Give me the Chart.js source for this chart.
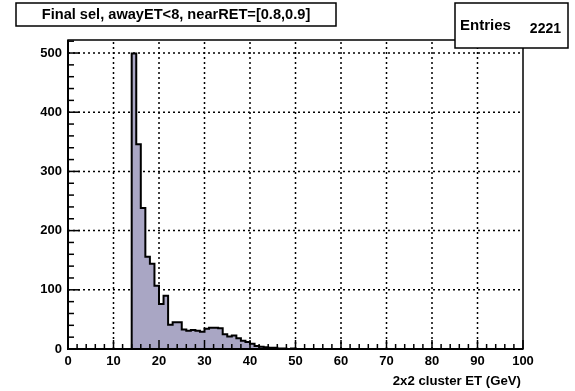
<!DOCTYPE html>
<html><head><meta charset="utf-8">
<script src="https://cdn.jsdelivr.net/npm/chart.js@4.4.1/dist/chart.umd.min.js"></script>
<style>html,body{margin:0;padding:0;background:#fff;overflow:hidden;} #wrap{width:575px;height:391px;position:relative;}</style>
</head><body><div id="wrap"><canvas id="c" width="575" height="391"></canvas></div>
<script>
// ---- data ----
const titleText = "Final sel, awayET<8, nearRET=[0.8,0.9]";
const xAxisTitle = "2x2 cluster ET (GeV)";
const statsLabel = "Entries";
const statsValue = "2221";
const binEdges = [14,15,16,17,18,19,20,21,22,23,24,25,26,27,28,29,30,31,32,33,34,35,36,37,38,39,40,41,42,43,44,45,46,47,48,49,50];
const counts   = [499,346,238,156,144,107,76,90,41,45,45,33,31,32,31,29,34,36,36,35,25,21,23,18,14,12,9,5,4,3,2,2,1,1,0,1];
const xTickValues = [0,10,20,30,40,50,60,70,80,90,100];
const yTickValues = [0,100,200,300,400,500];
const xRange = [0,100];
const yRange = [0,522];

// histogram outline points built from the arrays above
const pts = [{x: binEdges[0], y: 0}];
counts.forEach((c, i) => pts.push({x: binEdges[i], y: c}));
pts.push({x: binEdges[binEdges.length - 1], y: counts[counts.length - 1]});
pts.push({x: binEdges[binEdges.length - 1], y: 0});

const FONT = "'Liberation Sans', Arial, Helvetica, sans-serif";

const rootPlugin = {
  id: 'rootStyle',
  beforeDatasetsDraw(chart) {
    const {ctx, chartArea: a, scales: {x, y}} = chart;
    ctx.save();
    ctx.strokeStyle = '#000';
    ctx.lineWidth = 1.5;
    ctx.setLineDash([2, 3]);
    xTickValues.forEach(v => {
      if (v === xRange[0] || v === xRange[1]) return;
      const px = x.getPixelForValue(v);
      ctx.beginPath(); ctx.moveTo(px, a.bottom); ctx.lineTo(px, a.top); ctx.stroke();
    });
    yTickValues.forEach(v => {
      if (v === yRange[0]) return;
      const py = y.getPixelForValue(v);
      ctx.beginPath(); ctx.moveTo(a.left, py); ctx.lineTo(a.right, py); ctx.stroke();
    });
    ctx.restore();
  },
  afterDatasetsDraw(chart) {
    const {ctx, chartArea: a, scales: {x, y}} = chart;
    ctx.save();
    ctx.strokeStyle = '#000';
    ctx.setLineDash([]);
    // ticks
    ctx.lineWidth = 1.5;
    for (let v = xRange[0]; v <= xRange[1]; v += 2) {
      const px = x.getPixelForValue(v);
      const len = (v % 10 === 0) ? 9 : 5;
      ctx.beginPath(); ctx.moveTo(px, a.bottom); ctx.lineTo(px, a.bottom - len); ctx.stroke();
    }
    for (let v = yRange[0]; v <= yRange[1]; v += 20) {
      const py = y.getPixelForValue(v);
      const len = (v % 100 === 0) ? 12 : 6;
      ctx.beginPath(); ctx.moveTo(a.left, py); ctx.lineTo(a.left + len, py); ctx.stroke();
    }
    // frame
    ctx.lineWidth = 1.5;
    ctx.strokeRect(a.left, a.top, a.right - a.left, a.bottom - a.top);
    ctx.lineWidth = 2;
    ctx.beginPath(); ctx.moveTo(a.left, a.top); ctx.lineTo(a.left, a.bottom); ctx.lineTo(a.right, a.bottom); ctx.stroke();
    ctx.restore();
  },
  afterDraw(chart) {
    const {ctx, chartArea: a} = chart;
    ctx.save();
    ctx.setLineDash([]);
    // title box
    ctx.fillStyle = '#fff'; ctx.strokeStyle = '#000'; ctx.lineWidth = 1.5;
    ctx.fillRect(16, 3, 320, 23); ctx.strokeRect(16, 3, 320, 23);
    ctx.fillStyle = '#000';
    ctx.font = 'bold 14.6px ' + FONT;
    ctx.textAlign = 'center'; ctx.textBaseline = 'middle';
    ctx.fillText(titleText, 176, 14.5);
    // stats box
    ctx.fillStyle = '#fff';
    ctx.fillRect(455, 3, 113, 45); ctx.strokeRect(455, 3, 113, 45);
    ctx.fillStyle = '#000';
    ctx.font = 'bold 15px ' + FONT;
    ctx.textAlign = 'left';
    ctx.fillText(statsLabel, 460, 26);
    ctx.font = 'bold 14px ' + FONT;
    ctx.textAlign = 'right';
    ctx.fillText(statsValue, 561, 29);
    // x axis title
    ctx.font = 'bold 13.2px ' + FONT;
    ctx.textAlign = 'right';
    ctx.fillText(xAxisTitle, a.right - 2, 381);
    ctx.restore();
  }
};

new Chart(document.getElementById('c'), {
  type: 'line',
  data: {
    datasets: [{
      data: pts,
      stepped: 'before',
      borderColor: '#000',
      borderWidth: 2,
      backgroundColor: '#a9a6c4',
      fill: 'origin',
      pointRadius: 0,
      tension: 0
    }]
  },
  options: {
    responsive: false,
    animation: false,
    devicePixelRatio: 1,
    layout: {padding: {top: 40, right: 52, left: 0, bottom: 0}},
    plugins: {legend: {display: false}, tooltip: {enabled: false}, title: {display: false}},
    scales: {
      x: {
        type: 'linear', min: xRange[0], max: xRange[1],
        grid: {display: false, drawTicks: false},
        border: {display: false},
        afterBuildTicks: s => { s.ticks = xTickValues.map(v => ({value: v})); },
        afterFit: s => { s.height = 42; },
        ticks: {color: '#000', font: {family: FONT, weight: 'bold', size: 13}, padding: 5, maxRotation: 0, autoSkip: false}
      },
      y: {
        type: 'linear', min: yRange[0], max: yRange[1],
        grid: {display: false, drawTicks: false},
        border: {display: false},
        afterBuildTicks: s => { s.ticks = yTickValues.map(v => ({value: v})); },
        afterFit: s => { s.width = 68; },
        ticks: {color: '#000', font: {family: FONT, weight: 'bold', size: 13}, padding: 6}
      }
    }
  },
  plugins: [rootPlugin]
});
</script>
</body></html>
